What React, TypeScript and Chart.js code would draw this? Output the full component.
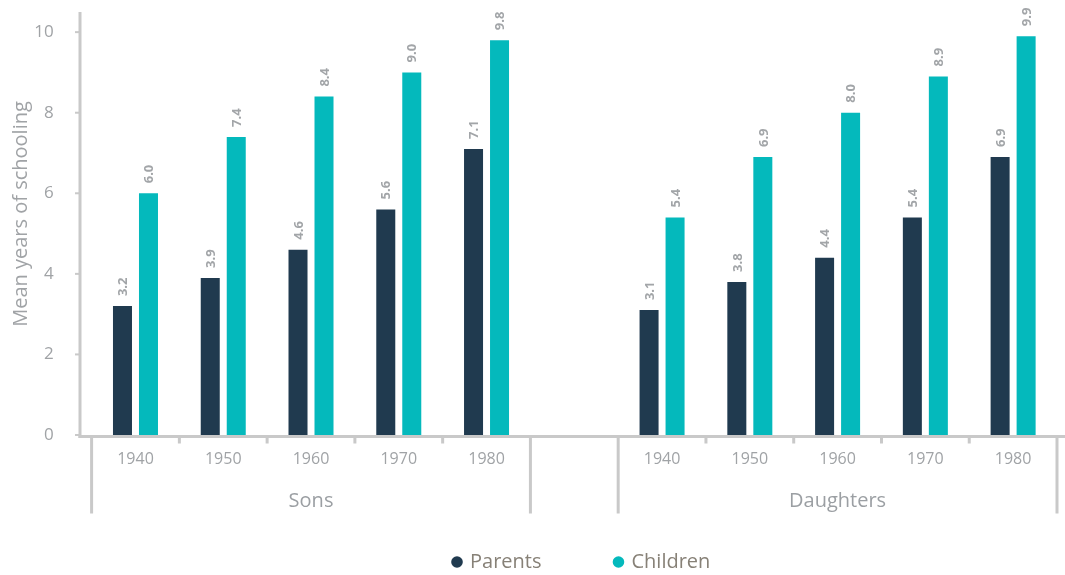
import React, { useEffect, useRef } from 'react';
import { Chart, registerables } from 'chart.js';

Chart.register(...registerables);

// ---- data ----
const categories = ['1940', '1950', '1960', '1970', '1980', '', '1940', '1950', '1960', '1970', '1980'];
const groupLabels = ['Sons', 'Daughters'];
const groupStarts = [0, 6];
const groupEnds = [4, 10];
const parents = [3.2, 3.9, 4.6, 5.6, 7.1, null, 3.1, 3.8, 4.4, 5.4, 6.9];
const children = [6.0, 7.4, 8.4, 9.0, 9.8, null, 5.4, 6.9, 8.0, 8.9, 9.9];
const yTickValues = [0, 2, 4, 6, 8, 10];
const seriesNames = ['Parents', 'Children'];
const seriesColors = ['#203a4f', '#04b9bc'];
const yTitle = 'Mean years of schooling';

const FONT = '"Open Sans", "Liberation Sans", sans-serif';
const AXIS_COLOR = '#c9c9c9';

const decorPlugin = {
  id: 'decor',
  afterDatasetsDraw(chart: any) {
    const ctx = chart.ctx;
    ctx.save();
    ctx.fillStyle = '#a2a5a8';
    ctx.font = `bold 13px ${FONT}`;
    chart.data.datasets.forEach((ds: any, di: number) => {
      const meta = chart.getDatasetMeta(di);
      meta.data.forEach((el: any, i: number) => {
        const v = ds.data[i];
        if (v === null || v === undefined) return;
        ctx.save();
        ctx.translate(el.x, el.y - 10);
        ctx.rotate(-Math.PI / 2);
        ctx.textAlign = 'left';
        ctx.textBaseline = 'middle';
        ctx.fillText(v.toFixed(1), 0, 1);
        ctx.restore();
      });
    });
    ctx.restore();
  },
  afterDraw(chart: any) {
    const ctx = chart.ctx;
    const area = chart.chartArea;
    const xs = chart.scales.x;
    const ys = chart.scales.y;
    const axisX = 80;
    const baseY = area.bottom + 1.5;
    const catW = (area.right - area.left) / categories.length;

    ctx.save();
    ctx.strokeStyle = AXIS_COLOR;
    ctx.lineCap = 'butt';

    ctx.lineWidth = 3;
    ctx.beginPath();
    ctx.moveTo(axisX, area.top);
    ctx.lineTo(axisX, baseY + 1.5);
    ctx.stroke();

    ctx.beginPath();
    ctx.moveTo(axisX - 1.5, baseY);
    ctx.lineTo(chart.width, baseY);
    ctx.stroke();

    ctx.lineWidth = 2;
    yTickValues.forEach((v) => {
      const y = ys.getPixelForValue(v);
      ctx.beginPath();
      ctx.moveTo(axisX - 5, y);
      ctx.lineTo(axisX, y);
      ctx.stroke();
    });

    ctx.lineWidth = 3;
    groupStarts.forEach((s, g) => {
      const e = groupEnds[g];
      const left = xs.getPixelForValue(s) - catW / 2;
      const right = xs.getPixelForValue(e) + catW / 2;
      [left, right].forEach((x) => {
        ctx.beginPath();
        ctx.moveTo(x, baseY);
        ctx.lineTo(x, baseY + 77);
        ctx.stroke();
      });
      for (let i = s; i < e; i++) {
        const x = (xs.getPixelForValue(i) + xs.getPixelForValue(i + 1)) / 2;
        ctx.beginPath();
        ctx.moveTo(x, baseY);
        ctx.lineTo(x, baseY + 7);
        ctx.stroke();
      }
      ctx.fillStyle = '#9b9fa3';
      ctx.font = `20px ${FONT}`;
      ctx.textAlign = 'center';
      ctx.textBaseline = 'middle';
      ctx.fillText(groupLabels[g], (left + right) / 2, baseY + 65);
    });

    ctx.fillStyle = '#a0a3a6';
    ctx.font = `16px ${FONT}`;
    ctx.textAlign = 'center';
    ctx.textBaseline = 'middle';
    categories.forEach((c, i) => {
      if (!c) return;
      ctx.fillText(c, xs.getPixelForValue(i), baseY + 23);
    });

    ctx.save();
    ctx.translate(21, 214);
    ctx.rotate(-Math.PI / 2);
    ctx.fillStyle = '#a0a3a6';
    ctx.font = `20px ${FONT}`;
    ctx.textAlign = 'center';
    ctx.textBaseline = 'middle';
    ctx.fillText(yTitle, 0, 0);
    ctx.restore();

    let lx = 451;
    const ly = 562;
    ctx.font = `20px ${FONT}`;
    ctx.textAlign = 'left';
    ctx.textBaseline = 'middle';
    seriesNames.forEach((name, i) => {
      ctx.fillStyle = seriesColors[i];
      ctx.beginPath();
      ctx.arc(lx + 6, ly, 5.8, 0, Math.PI * 2);
      ctx.fill();
      ctx.fillStyle = '#878177';
      ctx.fillText(name, lx + 19, ly);
      lx += 19 + ctx.measureText(name).width + 71;
    });

    ctx.restore();
  },
};

export default function App() {
  const ref = useRef<HTMLCanvasElement | null>(null);
  useEffect(() => {
    document.body.style.margin = '0';
    const canvas = ref.current!;
    const chart = new Chart(canvas, {
      type: 'bar',
      data: {
        labels: categories,
        datasets: [
          {
            label: seriesNames[0],
            data: parents,
            backgroundColor: seriesColors[0],
            categoryPercentage: 0.5925,
            barPercentage: 0.731,
          },
          {
            label: seriesNames[1],
            data: children,
            backgroundColor: seriesColors[1],
            categoryPercentage: 0.5925,
            barPercentage: 0.731,
          },
        ],
      },
      options: {
        responsive: false,
        animation: false,
        layout: { padding: { top: 12, right: 8, left: 0, bottom: 0 } },
        plugins: {
          legend: { display: false },
          tooltip: { enabled: false },
        },
        scales: {
          x: {
            grid: { display: false, drawTicks: false },
            border: { display: false },
            ticks: { display: false },
            afterFit: (scale: any) => {
              scale.height = 140;
              scale.paddingLeft = 0;
              scale.paddingRight = 0;
            },
          },
          y: {
            min: 0,
            max: 10.5,
            grid: { display: false, drawTicks: true, tickLength: 38 },
            border: { display: false },
            ticks: {
              stepSize: 2,
              padding: 0,
              color: '#a0a3a6',
              font: { family: FONT, size: 17 },
            },
            afterBuildTicks: (scale: any) => {
              scale.ticks = yTickValues.map((v) => ({ value: v }));
            },
            afterFit: (scale: any) => {
              scale.width = 91.6;
              scale.paddingTop = 0;
              scale.paddingBottom = 0;
            },
          },
        },
      } as any,
      plugins: [decorPlugin],
    });
    return () => chart.destroy();
  }, []);
  return (
    <div style={{ position: 'fixed', left: 0, top: 0, width: 1065, height: 575, background: '#fff' }}>
      <canvas ref={ref} width={1065} height={575} style={{ width: 1065, height: 575, display: 'block' }} />
    </div>
  );
}
